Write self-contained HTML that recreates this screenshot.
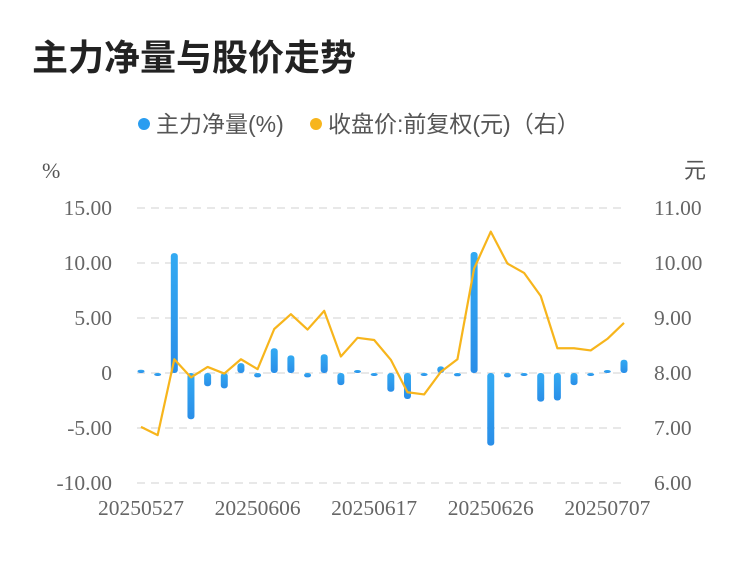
<!DOCTYPE html>
<html><head><meta charset="utf-8"><style>
body{margin:0;background:#fff;width:750px;height:558px;overflow:hidden;font-family:"Liberation Sans","Noto Sans CJK SC",sans-serif;}
</style></head><body>
<svg id="chart" width="750" height="558" xmlns="http://www.w3.org/2000/svg">
<defs><linearGradient id="bg" x1="0" y1="0" x2="0" y2="1"><stop offset="0" stop-color="#33aaf2"/><stop offset="1" stop-color="#2a8ee8"/></linearGradient></defs>
<text x="32" y="70" font-size="36" font-weight="bold" fill="#222" font-family="Noto Sans CJK SC, sans-serif">主力净量与股价走势</text>
<g>
<circle cx="144" cy="124" r="6" fill="#2a9df0"/>
<text x="156" y="132" font-size="23" fill="#555">主力净量(%)</text>
<circle cx="316" cy="124" r="6" fill="#f7b51c"/>
<text x="328" y="132" font-size="23" fill="#555">收盘价:前复权(元)（右）</text>
</g>
<text x="42" y="178" font-size="22" fill="#555" font-family="Liberation Serif, serif">%</text>
<text x="684" y="178" font-size="22" fill="#555">元</text>
<g id="grid"></g><g id="ticks"></g><g id="bars"></g><g id="line"></g>
</svg>
<script>
const dates=["20250527","20250528","20250529","20250530","20250603","20250604","20250605","20250606","20250609","20250610","20250611","20250612","20250613","20250616","20250617","20250618","20250619","20250620","20250623","20250624","20250625","20250626","20250627","20250630","20250701","20250702","20250703","20250704","20250707","20250708"];
const netFlow=[0.3,-0.1,10.9,-4.2,-1.2,-1.4,0.9,-0.4,2.25,1.6,-0.4,1.7,-1.1,0.05,-0.1,-1.7,-2.36,-0.2,0.6,-0.3,11.0,-6.6,-0.4,-0.2,-2.6,-2.5,-1.1,-0.2,0.2,1.2];
const price=[7.02,6.87,8.25,7.92,8.11,7.99,8.25,8.07,8.8,9.07,8.79,9.13,8.3,8.64,8.6,8.24,7.65,7.61,8.02,8.25,9.9,10.57,9.99,9.82,9.4,8.45,8.45,8.41,8.62,8.91];
const leftTicks=["15.00","10.00","5.00","0","-5.00","-10.00"];
const rightTicks=["11.00","10.00","9.00","8.00","7.00","6.00"];
const xLabelIdx=[0,7,14,21,28];
const NS="http://www.w3.org/2000/svg";
const yL=v=>373-(v)*11;
const yR=v=>373-(v-8)*55;
const x=i=>141+i*(483/(dates.length-1));
function mk(tag,attrs,parent){const e=document.createElementNS(NS,tag);for(const k in attrs)e.setAttribute(k,attrs[k]);document.getElementById(parent).appendChild(e);return e;}
leftTicks.forEach((t,i)=>{
 const yy=208+i*55;
 const g=mk("line",{x1:137,x2:627,y1:yy,y2:yy,stroke:"#e8e8e8","stroke-width":2,"stroke-dasharray":"8,6"},"grid");
 
 
 const a=mk("text",{x:112,y:yy+7,"text-anchor":"end","font-size":21.5,fill:"#666","font-family":"Liberation Serif, serif"},"ticks");a.textContent=t;
 
 
 const b=mk("text",{x:654,y:yy+7,"font-size":21.5,fill:"#666","font-family":"Liberation Serif, serif"},"ticks");b.textContent=rightTicks[i];
 
 
});
xLabelIdx.forEach(i=>{
 const t=mk("text",{x:x(i),y:515,"text-anchor":"middle","font-size":21.5,fill:"#666","font-family":"Liberation Serif, serif"},"ticks");t.textContent=dates[i];
 
 
});
netFlow.forEach((v,i)=>{
 const y0=yL(0),y1=yL(v);
 const h=Math.max(Math.abs(y1-y0),3);
 const r=mk("rect",{x:x(i)-3.5,y:Math.min(y0,y1)-(Math.abs(y1-y0)<3&&v>0?3-Math.abs(y1-y0):0),width:7,height:h,rx:3,fill:"url(#bg)"},"bars");
 
 
});
const p=mk("polyline",{points:price.map((v,i)=>x(i)+","+yR(v)).join(" "),fill:"none",stroke:"#f7b51c","stroke-width":2.2,"stroke-linejoin":"round"},"line");


</script>
</body></html>
